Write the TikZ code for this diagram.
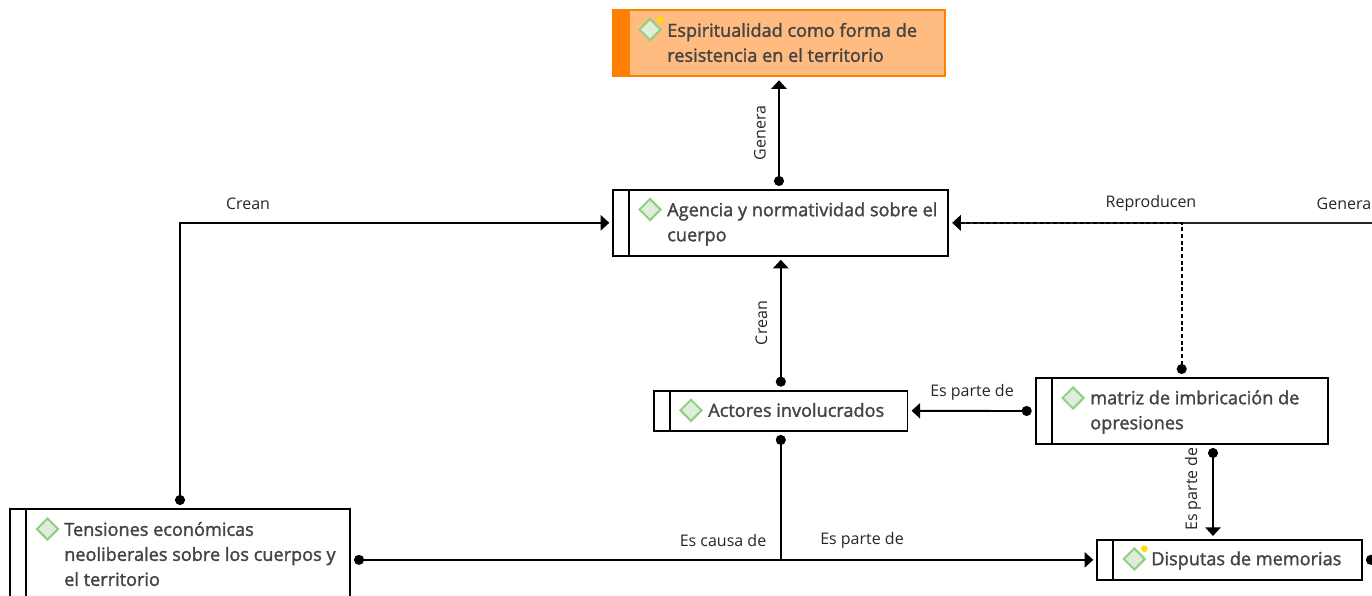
\documentclass[tikz,border=0pt]{standalone}
\usepackage{fontspec}
\setmainfont{Open Sans}
\newfontfamily\boxfont[FakeBold=1.6]{Open Sans}
\usetikzlibrary{arrows.meta,shapes.geometric}
\definecolor{boxtext}{RGB}{68,68,68}
\definecolor{markline}{RGB}{144,208,128}
\definecolor{markfill}{RGB}{222,238,218}
\definecolor{hiline}{RGB}{255,127,0}
\definecolor{hifill}{RGB}{255,187,128}
\tikzset{
  cardbox/.style={draw=black,line width=1.3pt,outer sep=0pt,inner sep=0pt,fill=white},
  cardstrip/.style={draw=black,line width=1.3pt,outer sep=0pt,inner sep=0pt,minimum width=12pt,anchor=west},
  hibox/.style={cardbox,draw=hiline,fill=hifill},
  histrip/.style={cardstrip,draw=hiline,fill=hiline},
  boxmark/.style={diamond,draw=markline,fill=markfill,line width=1.5pt,inner sep=0pt,minimum width=16.5pt,minimum height=16.5pt},
  newdot/.style={circle,fill=yellow!80!orange,inner sep=0pt,minimum size=5pt},
  boxlabel/.style={font=\fontsize{13.6}{18.75}\selectfont\boxfont,text=boxtext,align=left,anchor=west,inner sep=0pt},
  linklabel/.style={font=\fontsize{12}{14}\selectfont,text=black!85,inner sep=0pt},
  plainlink/.style={line width=1.4pt,shorten >=3pt,shorten <=3pt},
  link/.style={plainlink,{Circle[length=7.5pt]}-{Triangle[width=11.5pt,length=6.5pt]}},
  dotlink/.style={plainlink,{Circle[length=7.5pt]}-},
  tiplink/.style={plainlink,-{Triangle[width=11.5pt,length=6.5pt]}},
}
\begin{document}
\begin{tikzpicture}[x=0.75pt,y=0.75pt,yscale=-1,xscale=1]
        \useasboundingbox (0,0) rectangle (1372,596);
        \clip (0,0) rectangle (1372,596);
        % Text Node
        \node [hibox,minimum width=248.5pt,minimum height=49.5pt] (espiritu) at (779,43.25) {};
        \node [histrip,minimum height=49.5pt] (espirituS) at (espiritu.west) {};
        \node [boxmark] (espirituM) at (650,29.5) {};
        \node [newdot] (espirituN) at (660,20) {};
        \node [boxlabel] (espirituT) at (667,42.5) {Espiritualidad como forma de\\resistencia en el territorio};
        % Text Node
        \node [cardbox,minimum width=251.25pt,minimum height=49.3pt] (agencia) at (780.8,222.85) {};
        \node [cardstrip,minimum height=49.3pt] (agenciaS) at (agencia.west) {};
        \node [boxmark] (agenciaM) at (650,209.5) {};
        \node [boxlabel] (agenciaT) at (667,224) {Agencia y normatividad sobre el\\cuerpo};
        % Text Node
        \node [cardbox,minimum width=190.1pt,minimum height=30.2pt] (actores) at (780.8,410.8) {};
        \node [cardstrip,minimum height=30.2pt] (actoresS) at (actores.west) {};
        \node [boxmark] (actoresM) at (691,410.3) {};
        \node [boxlabel] (actoresT) at (708,410) {Actores involucrados};
        % Text Node
        \node [cardbox,minimum width=219pt,minimum height=49.5pt] (matriz) at (1181.7,411) {};
        \node [cardstrip,minimum height=49.5pt] (matrizS) at (matriz.west) {};
        \node [boxmark] (matrizM) at (1073,398) {};
        \node [boxlabel] (matrizT) at (1090,412) {matriz de imbricación de\\opresiones};
        % Text Node
        \node [cardbox,minimum width=198.5pt,minimum height=29.8pt] (disputas) at (1229.6,559.85) {};
        \node [cardstrip,minimum height=29.8pt] (disputasS) at (disputas.west) {};
        \node [boxmark] (disputasM) at (1134.3,559) {};
        \node [newdot] (disputasN) at (1144.3,548.7) {};
        \node [boxlabel] (disputasT) at (1151,560.5) {Disputas de memorias};
        % Text Node
        \node [cardbox,minimum width=255pt,minimum height=79.5pt] (tensiones) at (180,562) {};
        \node [cardstrip,minimum height=79.5pt] (tensionesS) at (tensiones.west) {};
        \node [boxmark] (tensionesM) at (47.5,529) {};
        \node [boxlabel] (tensionesT) at (64,554) {Tensiones económicas\\neoliberales sobre los cuerpos y\\el territorio};
        % Free ends
        \coordinate (edgeTop) at (1385,222.85);
        \coordinate (edgeLow) at (1385,559.85);
        \coordinate (parteTop) at (1213,444);
        % Connection
        \draw [link] (espiritu.south |- agencia.north) -- (espiritu.south);
        \draw [link] (actores.north) -- (actores.north |- agencia.south);
        \draw [link] (tensiones.north) |- (agencia.west);
        \draw [tiplink,draw=black!85] (edgeTop) -- (agencia.east);
        \draw [link,densely dashed,line width=1.2pt] (matriz.north) |- (agencia.east);
        \draw [link] (matriz.west) -- (actores.east);
        \draw [link] (parteTop) -- (parteTop |- disputas.north);
        \draw [link] (tensiones.east |- disputas.west) -- (disputas.west);
        \draw [dotlink,shorten >=0pt] (actores.south) -- (actores.south |- disputas.west);
        \draw [dotlink,shorten >=0pt] (disputas.east) -- (edgeLow);
        % Text Node
        \node [linklabel,rotate=90] (generaUp) at (760,133) {Genera};
        \node [linklabel,rotate=90] (creanUp) at (761.5,323) {Crean};
        \node [linklabel] (creanLeft) at (248,203.5) {Crean};
        \node [linklabel] (reproducen) at (1151,203.5) {Reproducen};
        \node [linklabel] (generaRight) at (1344,203.5) {Genera};
        \node [linklabel] (parteLeft) at (972,392.5) {Es parte de};
        \node [linklabel,rotate=90] (parteDown) at (1193,489) {Es parte de};
        \node [linklabel] (causa) at (723,540.5) {Es causa de};
        \node [linklabel] (parteLow) at (862,540.5) {Es parte de};
    \end{tikzpicture}
\end{document}
